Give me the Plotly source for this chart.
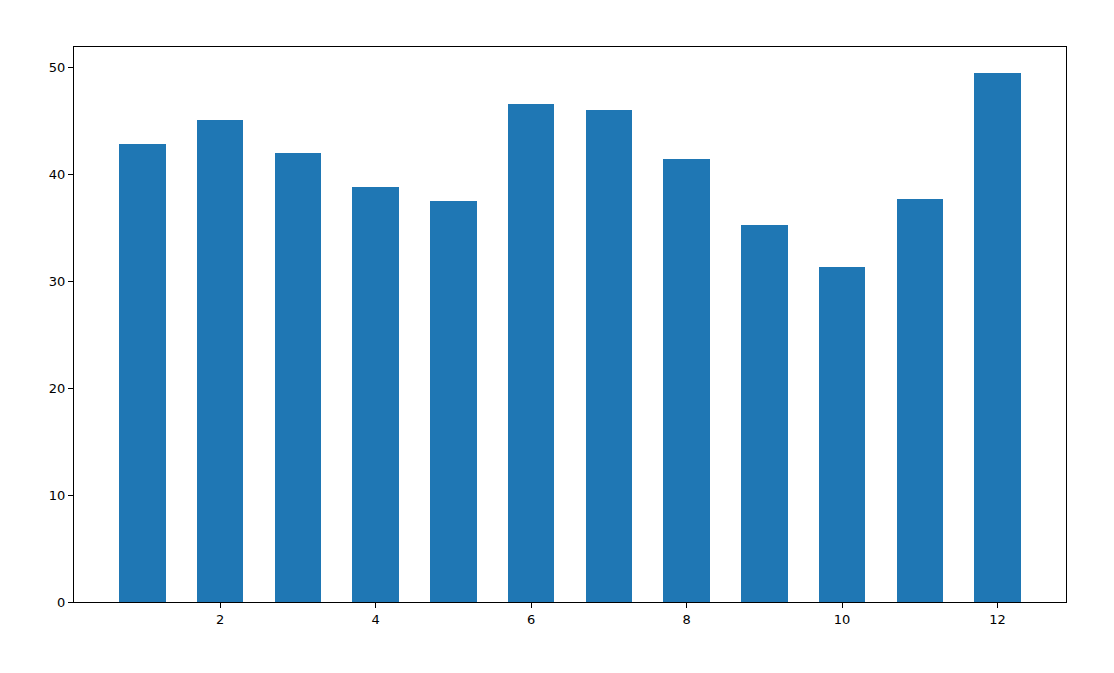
import plotly.graph_objects as go

months = list(range(1, 13))
values = [42.82, 45.07, 41.98, 38.88, 37.57, 46.57, 46.01, 41.42, 35.24, 31.40, 37.76, 49.47]
x_ticks = [2, 4, 6, 8, 10, 12]
y_ticks = [0, 10, 20, 30, 40, 50]

fig = go.Figure(go.Bar(x=months, y=values, width=0.6, marker=dict(color="#1f77b4", line=dict(width=0))))

ymax = max(values) * 1.05
fig.update_layout(
    width=1098, height=657,
    margin=dict(l=66, r=40, t=39, b=63),
    paper_bgcolor="white", plot_bgcolor="white",
    font=dict(family="DejaVu Sans", size=13, color="black"),
    showlegend=False,
    bargap=0,
)
fig.update_xaxes(range=[0.12, 12.88], tickvals=x_ticks, ticks="outside", ticklen=5, tickcolor="black",
                 showline=True, linecolor="black", linewidth=1, mirror=True, showgrid=False, zeroline=False)
fig.update_yaxes(range=[0, ymax], tickvals=y_ticks, ticks="outside", ticklen=5, tickcolor="black",
                 showline=True, linecolor="black", linewidth=1, mirror=True, showgrid=False, zeroline=False)
fig.write_html("out.html")
